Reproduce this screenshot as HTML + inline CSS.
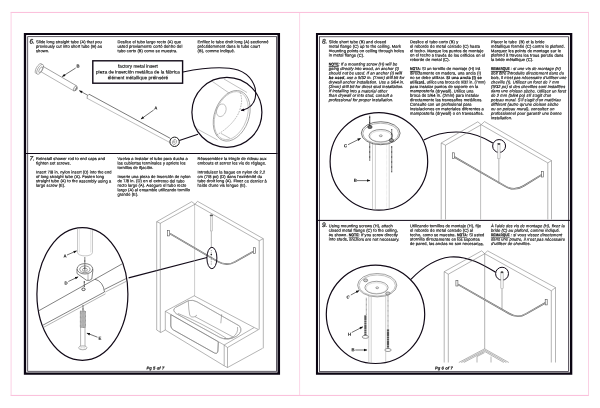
<!DOCTYPE html>
<html><head><meta charset="utf-8"><title>Pg 5-6</title>
<style>
html,body{margin:0;padding:0;background:#fff;}
body{width:600px;height:408px;overflow:hidden;}
svg{will-change:transform;display:block;position:absolute;left:0;top:0;}
text{filter:grayscale(1);text-rendering:geometricPrecision;font-family:"Liberation Sans",sans-serif;font-size:4.0px;letter-spacing:0.09px;fill:#111;stroke:#111;stroke-width:0.16px;}
.b{font-weight:bold;}
.i{font-style:italic;}
.u{text-decoration:underline;text-decoration-thickness:0.35px;text-underline-offset:0.1px;letter-spacing:0;stroke-width:0.18px;}
.num{font-size:6.5px;font-weight:normal;font-style:italic;letter-spacing:0;stroke:#222;stroke-width:0.22px;fill:#222;}
.lbl{font-size:4.3px;font-weight:bold;letter-spacing:0;stroke:#111;stroke-width:0.08px;}
.co{font-size:4.6px;letter-spacing:0.05px;text-anchor:middle;}
.pg{font-size:4.1px;font-weight:bold;font-style:italic;letter-spacing:0.08px;}
.g{fill:none;stroke:#787878;stroke-width:0.55;}
.gt{fill:none;stroke:#a2a2a2;stroke-width:0.5;}
.g2{fill:none;stroke:#b0b0b0;stroke-width:0.4;}
.d{fill:none;stroke:#444;stroke-width:0.5;}
.k{fill:none;stroke:#120a18;stroke-width:0.9;}
.k2{fill:none;stroke:#1a1a1a;stroke-width:0.55;}
.dot{fill:none;stroke:#222;stroke-width:1.15;stroke-dasharray:0.85 0.4;}
.rod{fill:none;stroke:#5c5c5c;stroke-width:1.55;}
.rodc{fill:none;stroke:#fff;stroke-width:0.5;}
.fl{fill:#fff;stroke:#555;stroke-width:0.6;}
.ar{fill:none;stroke:#111;stroke-width:0.6;}
.ah{fill:#111;stroke:none;}
</style></head><body>
<svg width="600" height="408" viewBox="0 0 600 408">
<rect x="0" y="0" width="600" height="408" fill="#fff"/>

<g fill="none" stroke="#fab9d8" stroke-width="0.95"><path d="M10.6,12.45H589 M10.6,395.45H589"/><path stroke="#fbcde3" d="M11.1,12.45V395.45 M588.5,12.45V395.45"/><path stroke="#fbc4de" stroke-width="0.7" d="M299.6,12.45V395.45"/></g>
<path fill="#0b0512" fill-rule="evenodd" d="M23.85,33H280.05V374.8H23.85Z M26.150000000000002,35.05V372.40000000000003H277.5V35.05Z"/>
<rect x="27.7" y="36.65" width="248.90" height="334.65" fill="none" stroke="#3a3440" stroke-width="0.8"/>
<path fill="#0b0512" fill-rule="evenodd" d="M315.95,33H572.3V374.8H315.95Z M318.05,35.05V372.5H569.9V35.05Z"/>
<rect x="319.55" y="36.75" width="249.00" height="334.65" fill="none" stroke="#3a3440" stroke-width="0.8"/>
<path fill="none" stroke="#100818" stroke-width="1" d="M26,153.5H277.5 M318,220.4H570"/>
<text class="num" x="29.5" y="43.5" transform="rotate(0.04 29.5 43.5)">6.</text>
<text x="36" y="43.20" transform="rotate(0.04 36 43.20)" xml:space="preserve">Slide long straight tube (A) that you</text>
<text x="36" y="47.67" transform="rotate(0.04 36 47.67)" xml:space="preserve">previously cut into short tube (B) as</text>
<text x="36" y="52.14" transform="rotate(0.04 36 52.14)" xml:space="preserve">shown.</text>
<text x="117.5" y="43.20" transform="rotate(0.04 117.5 43.20)" xml:space="preserve">Deslice el tubo largo recto (A) que</text>
<text x="117.5" y="47.67" transform="rotate(0.04 117.5 47.67)" xml:space="preserve">usted previamente cortó dentro del</text>
<text x="117.5" y="52.14" transform="rotate(0.04 117.5 52.14)" xml:space="preserve">tubo corto (B) como se muestra.</text>
<text x="197.5" y="43.20" transform="rotate(0.04 197.5 43.20)" xml:space="preserve">Enfilez le tube droit long (A) sectionné</text>
<text x="197.5" y="47.67" transform="rotate(0.04 197.5 47.67)" xml:space="preserve">précédemment dans le tube court</text>
<text x="197.5" y="52.14" transform="rotate(0.04 197.5 52.14)" xml:space="preserve">(B), comme indiqué.</text>
<text class="num" x="29.5" y="160.5" transform="rotate(0.04 29.5 160.5)">7.</text>
<text x="36" y="160.00" transform="rotate(0.04 36 160.00)" xml:space="preserve">Reinstall shower rod to end caps and</text>
<text x="36" y="164.47" transform="rotate(0.04 36 164.47)" xml:space="preserve">tighten set screws.</text>
<text x="36" y="173.41" textLength="75.5" lengthAdjust="spacingAndGlyphs" transform="rotate(0.04 36 173.41)" xml:space="preserve">Insert 7/8 in. nylon insert (D) into the end</text>
<text x="36" y="177.88" transform="rotate(0.04 36 177.88)" xml:space="preserve">of long straight tube (A). Fasten long</text>
<text x="36" y="182.35" transform="rotate(0.04 36 182.35)" xml:space="preserve">straight tube (A) to the assembly using a</text>
<text x="36" y="186.82" transform="rotate(0.04 36 186.82)" xml:space="preserve">large screw (E).</text>
<text x="117.5" y="160.00" transform="rotate(0.04 117.5 160.00)" xml:space="preserve">Vuelva a instalar el tubo para ducha a</text>
<text x="117.5" y="164.47" transform="rotate(0.04 117.5 164.47)" xml:space="preserve">las cubiertas terminales y apriete los</text>
<text x="117.5" y="168.94" transform="rotate(0.04 117.5 168.94)" xml:space="preserve">tornillos de fijación.</text>
<text x="117.5" y="177.88" transform="rotate(0.04 117.5 177.88)" xml:space="preserve">Inserte una pieza de inserción de nylon</text>
<text x="117.5" y="182.35" transform="rotate(0.04 117.5 182.35)" xml:space="preserve">de 7/8 in. (D) en el extremo del tubo</text>
<text x="117.5" y="186.82" transform="rotate(0.04 117.5 186.82)" xml:space="preserve">recto largo (A). Asegure el tubo recto</text>
<text x="117.5" y="191.29" transform="rotate(0.04 117.5 191.29)" xml:space="preserve">largo (A) al ensamble utilizando tornillo</text>
<text x="117.5" y="195.76" transform="rotate(0.04 117.5 195.76)" xml:space="preserve">grande (E).</text>
<text x="197.5" y="160.00" transform="rotate(0.04 197.5 160.00)" xml:space="preserve">Réassemblez la tringle de rideau aux</text>
<text x="197.5" y="164.47" transform="rotate(0.04 197.5 164.47)" xml:space="preserve">embouts et serrez les vis de réglage.</text>
<text x="197.5" y="173.41" transform="rotate(0.04 197.5 173.41)" xml:space="preserve">Introduisez la bague en nylon de 2,2</text>
<text x="197.5" y="177.88" transform="rotate(0.04 197.5 177.88)" xml:space="preserve">cm (7/8 po) (D) dans l'extrémité du</text>
<text x="197.5" y="182.35" transform="rotate(0.04 197.5 182.35)" xml:space="preserve">tube droit long (A). Fixez ce dernier à</text>
<text x="197.5" y="186.82" transform="rotate(0.04 197.5 186.82)" xml:space="preserve">l'aide d'une vis longue (E).</text>
<text class="num" x="322" y="43.5" transform="rotate(0.04 322 43.5)">8.</text>
<text x="328.8" y="43.20" transform="rotate(0.04 328.8 43.20)" xml:space="preserve">Slide short tube (B) and closed</text>
<text x="328.8" y="47.67" transform="rotate(0.04 328.8 47.67)" xml:space="preserve">metal flange (C) up to the ceiling. Mark</text>
<text x="328.8" y="52.14" transform="rotate(0.04 328.8 52.14)" xml:space="preserve">mounting points on ceiling through holes</text>
<text x="328.8" y="56.61" transform="rotate(0.04 328.8 56.61)" xml:space="preserve">in metal flange (C).</text>
<text x="328.8" y="65.55" transform="rotate(0.04 328.8 65.55)" xml:space="preserve"><tspan class="b u" textLength="9.7" lengthAdjust="spacingAndGlyphs">NOTE</tspan><tspan class="i">: If a mounting screw (H) will be</tspan></text>
<text x="328.8" y="70.02" transform="rotate(0.04 328.8 70.02)" xml:space="preserve"><tspan class="i">going directly into wood, an anchor (I)</tspan></text>
<text x="328.8" y="74.49" transform="rotate(0.04 328.8 74.49)" xml:space="preserve"><tspan class="i">should not be used. If an anchor (I) </tspan><tspan class="b i">will</tspan></text>
<text x="328.8" y="78.96" textLength="75.5" lengthAdjust="spacingAndGlyphs" transform="rotate(0.04 328.8 78.96)" xml:space="preserve"><tspan class="b i">be used</tspan><tspan class="i">, use a 9/32 in. (7mm) drill bit for</tspan></text>
<text x="328.8" y="83.43" textLength="75.5" lengthAdjust="spacingAndGlyphs" transform="rotate(0.04 328.8 83.43)" xml:space="preserve"><tspan class="i">drywall anchor installation. Use a 5/64 in.</tspan></text>
<text x="328.8" y="87.90" transform="rotate(0.04 328.8 87.90)" xml:space="preserve"><tspan class="i">(2mm) drill bit for direct stud installation.</tspan></text>
<text x="328.8" y="92.37" transform="rotate(0.04 328.8 92.37)" xml:space="preserve"><tspan class="i">If installing into a material other</tspan></text>
<text x="328.8" y="96.84" transform="rotate(0.04 328.8 96.84)" xml:space="preserve"><tspan class="i">than drywall or into stud, consult a</tspan></text>
<text x="328.8" y="101.31" transform="rotate(0.04 328.8 101.31)" xml:space="preserve"><tspan class="i">professional for proper installation.</tspan></text>
<text x="410" y="43.20" transform="rotate(0.04 410 43.20)" xml:space="preserve">Deslice el tubo corto (B) y</text>
<text x="410" y="47.67" transform="rotate(0.04 410 47.67)" xml:space="preserve">el reborde de metal cerrado (C) hasta</text>
<text x="410" y="52.14" transform="rotate(0.04 410 52.14)" xml:space="preserve">el techo. Marque los puntos de montaje</text>
<text x="410" y="56.61" transform="rotate(0.04 410 56.61)" xml:space="preserve">en el techo a través de los orificios en el</text>
<text x="410" y="61.08" transform="rotate(0.04 410 61.08)" xml:space="preserve">reborde de metal (C).</text>
<text x="410" y="70.02" transform="rotate(0.04 410 70.02)" xml:space="preserve"><tspan class="b u" textLength="9.7" lengthAdjust="spacingAndGlyphs">NOTA</tspan>: Si un tornillo de montaje (H) irá</text>
<text x="410" y="74.49" transform="rotate(0.04 410 74.49)" xml:space="preserve">directamente en madera, una ancla (I)</text>
<text x="410" y="78.96" transform="rotate(0.04 410 78.96)" xml:space="preserve">no se debe utilizar. <tspan class="b">Si una ancla (I) se</tspan></text>
<text x="410" y="83.43" textLength="75.5" lengthAdjust="spacingAndGlyphs" transform="rotate(0.04 410 83.43)" xml:space="preserve"><tspan class="b">utilizará</tspan>, utilice una broca de 9/32 in. (7mm)</text>
<text x="410" y="87.90" transform="rotate(0.04 410 87.90)" xml:space="preserve">para instalar puntos de soporte en la</text>
<text x="410" y="92.37" transform="rotate(0.04 410 92.37)" xml:space="preserve">mampostería (drywall). Utilice una</text>
<text x="410" y="96.84" transform="rotate(0.04 410 96.84)" xml:space="preserve">broca de 5/64 in. (2mm) para instalar</text>
<text x="410" y="101.31" transform="rotate(0.04 410 101.31)" xml:space="preserve">directamente las travesaños metálicos.</text>
<text x="410" y="105.78" transform="rotate(0.04 410 105.78)" xml:space="preserve">Consulte con un profesional para</text>
<text x="410" y="110.25" transform="rotate(0.04 410 110.25)" xml:space="preserve">instalaciones en materiales diferentes a</text>
<text x="410" y="114.72" transform="rotate(0.04 410 114.72)" xml:space="preserve">mampostería (drywall) o en travesaños.</text>
<text x="491" y="43.20" transform="rotate(0.04 491 43.20)" xml:space="preserve">Placer le tube  (B) et la bride</text>
<text x="491" y="47.67" transform="rotate(0.04 491 47.67)" xml:space="preserve">métallique fermée (C) contre le plafond.</text>
<text x="491" y="52.14" transform="rotate(0.04 491 52.14)" xml:space="preserve">Marquez les points de montage sur le</text>
<text x="491" y="56.61" transform="rotate(0.04 491 56.61)" xml:space="preserve">plafond à travers les trous percés dans</text>
<text x="491" y="61.08" transform="rotate(0.04 491 61.08)" xml:space="preserve">la bride métallique (C).</text>
<text x="491" y="70.02" transform="rotate(0.04 491 70.02)" xml:space="preserve"><tspan class="b u" textLength="18.6" lengthAdjust="spacingAndGlyphs">REMARQUE</tspan><tspan class="i"> : si une vis de montage (H)</tspan></text>
<text x="491" y="74.49" transform="rotate(0.04 491 74.49)" xml:space="preserve"><tspan class="i">doit être introduite directement dans du</tspan></text>
<text x="491" y="78.96" textLength="75.5" lengthAdjust="spacingAndGlyphs" transform="rotate(0.04 491 78.96)" xml:space="preserve"><tspan class="i">bois, il n'est pas nécessaire d'utiliser une</tspan></text>
<text x="491" y="83.43" transform="rotate(0.04 491 83.43)" xml:space="preserve"><tspan class="i">cheville (I). Utilisez un foret de 7 mm</tspan></text>
<text x="491" y="87.90" transform="rotate(0.04 491 87.90)" xml:space="preserve"><tspan class="i">(9/32 po) si des chevilles sont installées</tspan></text>
<text x="491" y="92.37" transform="rotate(0.04 491 92.37)" xml:space="preserve"><tspan class="i">dans une cloison sèche. Utilisez un foret</tspan></text>
<text x="491" y="96.84" transform="rotate(0.04 491 96.84)" xml:space="preserve"><tspan class="i">de 2 mm (5/64 po) s'il s'agit d'un</tspan></text>
<text x="491" y="101.31" transform="rotate(0.04 491 101.31)" xml:space="preserve"><tspan class="i">poteau mural. S'il s'agit d'un matériau</tspan></text>
<text x="491" y="105.78" transform="rotate(0.04 491 105.78)" xml:space="preserve"><tspan class="i">différent (autre qu'une cloison sèche</tspan></text>
<text x="491" y="110.25" transform="rotate(0.04 491 110.25)" xml:space="preserve"><tspan class="i">ou un poteau mural), consultez un</tspan></text>
<text x="491" y="114.72" transform="rotate(0.04 491 114.72)" xml:space="preserve"><tspan class="i">professionnel pour garantir une bonne</tspan></text>
<text x="491" y="119.19" transform="rotate(0.04 491 119.19)" xml:space="preserve"><tspan class="i">installation.</tspan></text>
<text class="num" x="322" y="227" transform="rotate(0.04 322 227)">9.</text>
<text x="328.8" y="227.20" transform="rotate(0.04 328.8 227.20)" xml:space="preserve">Using mounting screws (H), attach</text>
<text x="328.8" y="231.67" transform="rotate(0.04 328.8 231.67)" xml:space="preserve">closed metal flange (C) to the ceiling,</text>
<text x="328.8" y="236.14" transform="rotate(0.04 328.8 236.14)" xml:space="preserve">as shown. <tspan class="b u" textLength="9.7" lengthAdjust="spacingAndGlyphs">NOTE</tspan>: If you screw directly</text>
<text x="328.8" y="240.61" transform="rotate(0.04 328.8 240.61)" xml:space="preserve">into studs, anchors are not necessary.</text>
<text x="410" y="227.20" transform="rotate(0.04 410 227.20)" xml:space="preserve">Utilizando tornillos de montaje (H), fije</text>
<text x="410" y="231.67" transform="rotate(0.04 410 231.67)" xml:space="preserve">el reborde de metal cerrado (C) al</text>
<text x="410" y="236.14" transform="rotate(0.04 410 236.14)" xml:space="preserve">techo, como se muestra. <tspan class="b u" textLength="9.7" lengthAdjust="spacingAndGlyphs">NOTA</tspan>: Si usted</text>
<text x="410" y="240.61" transform="rotate(0.04 410 240.61)" xml:space="preserve">atornilla directamente en los soportes</text>
<text x="410" y="245.08" transform="rotate(0.04 410 245.08)" xml:space="preserve">de pared, las anclas no son necesarias.</text>
<text x="491" y="227.20" transform="rotate(0.04 491 227.20)" xml:space="preserve"><tspan class="i">À l'aide des vis de montage (H), fixez la</tspan></text>
<text x="491" y="231.67" transform="rotate(0.04 491 231.67)" xml:space="preserve"><tspan class="i">bride (C) au plafond, comme indiqué.</tspan></text>
<text x="491" y="236.14" transform="rotate(0.04 491 236.14)" xml:space="preserve"><tspan class="b u" textLength="18.6" lengthAdjust="spacingAndGlyphs">REMARQUE</tspan><tspan class="i"> : si vous vissez directement</tspan></text>
<text x="491" y="240.61" transform="rotate(0.04 491 240.61)" xml:space="preserve"><tspan class="i">dans une poutre, il n'est pas nécessaire</tspan></text>
<text x="491" y="245.08" transform="rotate(0.04 491 245.08)" xml:space="preserve"><tspan class="i">d'utiliser de chevilles.</tspan></text>
<text class="pg" x="146.5" y="369.5" transform="rotate(0.04 146.5 369.5)">Pg 5 of 7</text>
<text class="pg" x="435" y="369.5" transform="rotate(0.04 435 369.5)">Pg 6 of 7</text>
<defs>
<marker id="ah" viewBox="0 0 10 10" refX="9" refY="5" markerWidth="4.2" markerHeight="3.4" orient="auto-start-reverse" markerUnits="userSpaceOnUse"><path d="M0,1.2 L10,5 L0,8.8 Z" fill="#111"/></marker>
<marker id="ah2" viewBox="0 0 10 10" refX="8" refY="5" markerWidth="4.6" markerHeight="3.6" orient="auto-start-reverse" markerUnits="userSpaceOnUse"><path d="M0,1 L10,5 L0,9 Z" fill="#120a18"/></marker>
<clipPath id="c7"><ellipse cx="82.4" cy="294" rx="45" ry="65.8"/></clipPath>
<clipPath id="c8"><circle cx="378.9" cy="161.4" r="48.4"/></clipPath>
<clipPath id="c9"><circle cx="375.5" cy="314.3" r="48.8"/></clipPath>
<clipPath id="c6"><circle cx="226.9" cy="112.3" r="34.5"/></clipPath>
</defs>

<!-- ================= STEP 6 ================= -->
<g id="s6">
<!-- flange -->
<g transform="translate(1.3 0.4) rotate(30 38.2 68.6)">
<ellipse class="g" cx="37.2" cy="68.6" rx="2.3" ry="5.6"/>
<ellipse class="g" cx="38.9" cy="68.6" rx="2.3" ry="5.6" style="fill:#fff"/>
<ellipse class="g" cx="39.6" cy="68.6" rx="1.3" ry="3.2"/>
</g>
<!-- tube B -->
<path class="d" d="M42.9,66.3 L76.5,85.8"/>
<path class="g" d="M40.9,71.7 L73.7,90.8"/>
<ellipse class="d" cx="75.2" cy="88.4" rx="1.3" ry="2.9" transform="rotate(30 75.2 88.4)" style="fill:#fff"/>
<ellipse class="d" cx="76.3" cy="89" rx="0.7" ry="1.7" transform="rotate(30 76.3 89)"/>
<!-- small arrow -->
<path class="ar" d="M87.8,95.3 L79.3,90.6" marker-end="url(#ah)" style="stroke-width:0.55"/>
<!-- tube A -->
<path class="d" d="M89,94.2 L170.4,138.4" style="stroke:#222;stroke-width:0.6"/>
<path class="g" d="M87.1,98.3 L169.6,142.4" style="stroke:#8a8a8a"/>
<path class="d" d="M89,94.2 Q86.6,95.6 87.1,98.6"/>
<!-- small ring -->
<circle class="k2" cx="174.6" cy="141.8" r="4.7" style="fill:#fff;stroke-width:1.0"/>
<ellipse class="g" cx="174.5" cy="142" rx="2" ry="2.6" transform="rotate(25 174.5 142)"/>
<ellipse class="g" cx="174.2" cy="141.8" rx="0.7" ry="1" />
<path class="k" d="M179.3,140.4 L198,134.2" style="stroke-width:1.1"/>
<!-- labels -->
<text class="lbl" x="76.6" y="67.4" transform="rotate(0.04 76.6 67.4)">B</text>
<path class="ar" d="M75.7,68 L62.3,76.5" marker-end="url(#ah)"/>
<text class="lbl" x="154.3" y="109.5" transform="rotate(0.04 154.3 109.5)">A</text>
<path class="ar" d="M153.7,110 L141,119" marker-end="url(#ah)"/>
<!-- callout box -->
<rect x="92.8" y="60.8" width="89.8" height="22.4" fill="#fff" stroke="#120a18" stroke-width="1.4"/>
<text class="co" x="137.9" y="67.8" transform="rotate(0.04 137.9 67.8)">factory metal insert</text>
<text class="co" x="137.9" y="73.6" transform="rotate(0.04 137.9 73.6)">pieza de inserción metálica de la fábrica</text>
<text class="co" x="137.9" y="79.2" transform="rotate(0.04 137.9 79.2)">élément métallique préinséré</text>
<!-- big circle -->
<circle class="k" cx="226.9" cy="112.3" r="35" style="stroke-width:1.2"/>
<g clip-path="url(#c6)">
<path class="d" d="M211,80.5 L229,93 M224,79 L247,92.5 M196,128.3 L217.5,140 M220.8,133.3 L230,138.3" style="stroke:#666;stroke-width:0.4"/>
<g transform="rotate(20 231.7 115.8)">
<ellipse class="g2" cx="231.7" cy="115.8" rx="17.2" ry="26.2" style="stroke:#999;stroke-width:0.8"/>
<ellipse class="g2" cx="231.2" cy="115.8" rx="15.7" ry="24.9" style="stroke:#aaa;stroke-width:0.6"/>
</g>
<ellipse class="g" cx="221.3" cy="110.3" rx="4.6" ry="6.5" transform="rotate(20 221.3 110.3)" style="stroke:#999;stroke-width:0.55"/>
<path class="g" d="M240,92.5 Q243.5,100 239.2,111.7 Q233.5,125 216.5,135.2" style="stroke:#858585;stroke-width:0.6;stroke-dasharray:1.7 1"/>
</g>
<!-- leader -->
<path class="k" d="M183,72 C 198,69 222,65.5 238,70 C 251,74.5 256.2,86 255.7,94.5 C 255.2,103 250,108.6 241.3,110.4" marker-end="url(#ah2)" style="stroke-width:1.15"/>
</g>

<!-- ================= STEP 7 ================= -->
<g id="s7a">
<ellipse cx="82.4" cy="294" rx="45.5" ry="66.3" class="k" style="stroke-width:1.2;fill:#fff"/>
<g clip-path="url(#c7)">
<!-- vertical tube A -->
<path class="g" d="M77.5,225 V252.5 A7.5,3.4 0 0 0 92.5,252.5 V225" style="stroke:#9a9a9a"/>
<path class="g2" d="M79.3,225 V252.5 M90.8,225 V252.5"/>
<!-- big tube -->
<path class="k2" d="M36,312.3 L95,279.2 Q103.3,281.5 104.5,292"/>
<path class="k2" d="M38,327.8 L104.5,292"/>
<path class="g" d="M40,329.3 L105.5,293.8"/>
<!-- thin rod -->
<path class="k2" d="M95,279.2 L126,261.7"/>
<path class="k2" d="M104.5,289.4 L132,275.6"/>
<path class="g" d="M105.3,292 L132,278.4"/>
</g>
<!-- dotted -->
<path class="dot" d="M84.8,257.5 V268"/>
<!-- nut D -->
<path class="k2" d="M77,269 V273.5 L86.5,280.3 Q90,281 91.8,279 L92.8,271 V269" style="fill:#fff"/>
<ellipse class="k2" cx="84.9" cy="268.8" rx="7.8" ry="5.2" style="fill:#fff"/>
<ellipse class="k2" cx="84.9" cy="269.3" rx="5.2" ry="3.4" style="stroke:#444"/>
<ellipse class="d" cx="84.9" cy="269.8" rx="2.5" ry="1.6"/>
<path class="g" d="M88,280.3 V274"/>
<path class="dot" d="M84.8,264.5 V271 M84.3,281 V287.3"/>
<ellipse class="k2" cx="83.5" cy="289.3" rx="1.7" ry="1.3" style="stroke-width:0.7"/>
<!-- labels -->
<text class="lbl" x="63.6" y="257.6" transform="rotate(0.04 63.6 257.6)">A</text>
<path class="ar" d="M67,255 L76.6,250.9" marker-end="url(#ah)"/>
<text class="lbl" x="64.6" y="284.4" transform="rotate(0.04 64.6 284.4)">D</text>
<path class="ar" d="M68.3,281.5 L78.1,276.9" marker-end="url(#ah)"/>
<!-- screw E -->
<path class="dot" d="M83,305.5 V311"/>
<rect x="80.3" y="311" width="5.2" height="16.5" fill="#aaa" stroke="#444" stroke-width="0.5" stroke-dasharray="0.8 0.5"/>
<path stroke="#fff" stroke-width="0.35" stroke-dasharray="0.5 0.8" d="M81.5,311.3 V327.3 M82.9,311.7 V327.3 M84.3,311.3 V327.3"/>
<path class="g" d="M80.6,327.5 V346 M85,327.5 V346" style="stroke:#777"/>
<ellipse class="g" cx="82.8" cy="347.8" rx="4.2" ry="2" style="stroke:#777;fill:#fff"/>
<ellipse class="g2" cx="82.8" cy="348.2" rx="2.5" ry="1.1"/>
<text class="lbl" x="98.6" y="339.8" transform="rotate(0.04 98.6 339.8)">E</text>
<path class="ar" d="M97.5,337.2 L86.9,333.1" marker-end="url(#ah)"/>
<!-- leader to right -->
<path class="k" d="M128.6,277.8 L207,257.5" style="stroke-width:1.2"/>
</g>

<g id="s7b">
<!-- walls -->
<path class="g" d="M156.7,221.7 L191.7,201.7 L195,204.2 L160.3,223.3 Z"/>
<path class="g" d="M156.7,221.7 V330 L160.8,332.5 L165.3,330 M160.3,223.3 V332.5"/>
<path class="g" d="M195,204.2 L197.5,201.3 L263.3,238.7 L259.2,240.8 Z"/>
<path class="g" d="M259.2,240.8 V329.5 M263.3,238.7 V348.3"/>
<path class="g" d="M194.6,204.2 V296" style="stroke:#9a9a9a;stroke-width:0.5"/>
<!-- vertical support -->
<rect x="210.3" y="215.4" width="2.2" height="15.6" fill="#efefef" stroke="#999" stroke-width="0.45"/>
<ellipse cx="211.4" cy="215.3" rx="1.7" ry="0.9" fill="#555"/>
<path class="g" d="M211.4,231 V248" style="stroke-width:1.1;stroke:#aaa"/>
<path fill="none" stroke="#fff" stroke-width="0.3" d="M211.4,231 V248"/>
<!-- rod -->
<path class="rod" d="M170,233.7 L217.5,261.4 Q226.5,266.6 235,261.8 L253.6,251.4"/>
<path class="rodc" d="M170,233.7 L217.5,261.4 Q226.5,266.6 235,261.8 L253.6,251.4"/>
<rect class="fl" x="167.6" y="230.3" width="2" height="5.6"/>
<rect class="fl" x="253.5" y="247.7" width="2" height="5.6"/>
<!-- small ellipse -->
<ellipse class="k" cx="211.9" cy="258" rx="5" ry="10.7" style="stroke-width:1.0"/>
<path class="d" d="M211.3,250 V265" style="stroke-dasharray:1 0.8"/>
<circle cx="211.3" cy="254.5" r="0.8" fill="#222"/>
<!-- tub -->
<path class="g" d="M165.3,311.3 L194.2,295.8 L254.2,327.5 L224.2,345 Z"/>
<path class="g" d="M254.2,327.5 L258.5,329.6 L227.5,347.5 L224.2,345"/>
<path class="g" d="M165.3,311.3 V330 L224.2,365.8 L227.5,367.5 L262.6,348.3 M224.2,345 V365.8 M227.5,347.5 V367.5"/>
<path class="d" d="M170.8,314.8 V326 Q171,328.6 173.5,330 L214.5,353 Q217.6,354.3 217.9,351 L218.3,342" style="stroke:#555;stroke-width:0.9"/>
<path fill="none" stroke="#fff" stroke-width="0.3" d="M170.8,314.8 V326 Q171,328.6 173.5,330 L214.5,353 Q217.6,354.3 217.9,351 L218.3,342"/>
<path class="d" d="M170.8,314.6 L218.3,341.8" style="stroke:#666"/>
<path class="d" d="M176.5,313.8 L220,337.5 Q228,341.2 236.5,336.2 Q243.5,331.5 239.5,326 L197,301.8 Q193,299.6 188.5,300.6 L175.2,307.6 Q171.8,310.4 176.5,313.8 Z" style="stroke:#666;stroke-width:0.8"/>
<path fill="none" stroke="#fff" stroke-width="0.3" d="M176.5,313.8 L220,337.5 Q228,341.2 236.5,336.2 Q243.5,331.5 239.5,326 L197,301.8 Q193,299.6 188.5,300.6 L175.2,307.6 Q171.8,310.4 176.5,313.8 Z"/>
<path class="g" d="M188.3,300.8 Q188.6,310 189.7,315 Q191,318 195,316.6 L197,315 M195,316.6 L233,337 M221.7,314.2 L220.8,323.3 M237.5,327 Q238.5,333 233,337 Q229,339.5 224,338.5 M178,313.5 Q200,322 226,338"/>
</g>

<!-- ================= STEP 8 ================= -->
<g id="s8a">
<circle class="k" cx="378.9" cy="161.4" r="48.8" style="stroke-width:1.2;fill:#fff"/>
<g clip-path="url(#c8)">
<path class="gt" d="M372.5,143 V212 M375.4,144 V212 M389.2,143 V212"/>
<path class="g2" d="M386.6,143 V212" style="stroke-dasharray:0.5 0.7"/>
</g>
<ellipse class="k2" cx="380.7" cy="133.2" rx="19.4" ry="11.5" style="fill:#fff;stroke-width:0.6"/>
<ellipse class="g" cx="380.7" cy="133.5" rx="17.9" ry="10.3"/>
<ellipse class="k2" cx="380.8" cy="135.8" rx="11.8" ry="6.3" style="stroke:#333"/>
<ellipse class="g2" cx="380.8" cy="136.3" rx="10.6" ry="5.4"/>
<ellipse class="d" cx="380.8" cy="135.8" rx="1.5" ry="0.9"/>
<ellipse class="k2" cx="369.9" cy="127" rx="2.2" ry="1.6" style="fill:#666"/>
<ellipse class="k2" cx="391.4" cy="140.3" rx="2.2" ry="1.6" style="fill:#999"/>
<path class="dot" d="M369.7,115.8 V126 M369.7,143.5 V160.8 M391.7,129.2 V139.3 M391.7,146 V172.5"/>
<text class="lbl" x="344" y="147.2" transform="rotate(0.04 344 147.2)">C</text>
<path class="ar" d="M348,144.7 L360.6,138.4" marker-end="url(#ah)"/>
<text class="lbl" x="353.8" y="181.8" transform="rotate(0.04 353.8 181.8)">B</text>
<path class="ar" d="M357,180.6 L370,180.6" marker-end="url(#ah)"/>
<path class="k" d="M423.7,140 C 435,134 449,131.2 462,132.2 C 476,133.5 486,138.6 492.8,143" style="stroke-width:1.15"/>
</g>
<g id="s8b">
<path class="g" d="M441.2,143 L477.8,121.8 L481.2,124.7 L445.5,145.2 Z"/>
<path class="g" d="M441.2,143 V219.5 M445.5,145.2 V219.5"/>
<path class="g" d="M481.2,124.7 L484.5,121.6 L551.5,160.6 L547.8,162.9 Z"/>
<path class="g" d="M547.8,162.9 V219.5 M551.5,160.6 V219.5"/>
<path class="g" d="M480.6,124.7 V219.5" style="stroke:#8a8a8a"/>
<circle class="k" cx="499.1" cy="146" r="6.45" style="stroke-width:1.0"/>
<rect x="497.7" y="143.6" width="2.4" height="15" fill="#efefef" stroke="#999" stroke-width="0.45"/>
<ellipse cx="498.9" cy="144" rx="1.3" ry="1" fill="#444"/>
<path class="g" d="M498.8,158.6 V183.5" style="stroke-width:1.1;stroke:#aaa"/>
<path fill="none" stroke="#fff" stroke-width="0.3" d="M498.8,158.6 V183.5"/>
<path class="rod" d="M454.4,157 L505.5,186.3 Q514.5,191.5 523.5,186 L542,174.6"/>
<path class="rodc" d="M454.4,157 L505.5,186.3 Q514.5,191.5 523.5,186 L542,174.6"/>
<rect class="fl" x="452.3" y="152.8" width="2" height="5.6"/>
<rect class="fl" x="541.6" y="171.4" width="2" height="5.6"/>
</g>

<!-- ================= STEP 9 ================= -->
<g id="s9a">
<circle class="k" cx="375.5" cy="314.3" r="49.2" style="stroke-width:1.2;fill:#fff"/>
<g clip-path="url(#c9)">
<path class="gt" d="M368.8,296 V365 M371.2,297 V365 M385.7,296 V365"/>
</g>
<ellipse class="k2" cx="377.2" cy="285.2" rx="19.6" ry="11.7" style="fill:#fff;stroke-width:0.55;stroke:#555"/>
<ellipse class="g" cx="377.2" cy="285.5" rx="18.2" ry="10.5" style="stroke:#888;stroke-width:0.5"/>
<ellipse class="k2" cx="376.5" cy="287.6" rx="11.6" ry="6.3" style="stroke:#555"/>
<ellipse class="g2" cx="376.5" cy="288.1" rx="10.4" ry="5.4"/>
<ellipse class="d" cx="377.2" cy="287.8" rx="1.4" ry="0.9"/>
<ellipse class="k2" cx="365.6" cy="280.3" rx="2.1" ry="1.5" style="fill:#ccc;stroke:#555"/>
<ellipse class="k2" cx="387.8" cy="293.4" rx="2.1" ry="1.5" style="fill:#ccc;stroke:#555"/>
<path class="dot" d="M366.3,297.8 V315 M388,295 V329.2" style="stroke:#555;stroke-width:0.7"/>
<path stroke="#222" stroke-width="2.2" stroke-dasharray="0.6 0.3" d="M365.4,315 V335.4 M388,329.2 V348.6"/>
<ellipse class="k2" cx="365.4" cy="336.9" rx="3.2" ry="1.5" style="fill:#fff;stroke:#444"/>
<ellipse class="k2" cx="388" cy="350" rx="3.2" ry="1.5" style="fill:#fff;stroke:#444"/>
<text class="lbl" x="346.6" y="298.5" transform="rotate(0.04 346.6 298.5)" style="font-style:italic">C</text>
<path class="ar" d="M350.8,295 L359,290.6" marker-end="url(#ah)"/>
<text class="lbl" x="348" y="335.8" transform="rotate(0.04 348 335.8)">H</text>
<path class="ar" d="M351.7,332.5 L362.8,326.8" marker-end="url(#ah)"/>
<text class="lbl" x="351.5" y="351.3" transform="rotate(0.04 351.5 351.3)">B</text>
<path class="ar" d="M355.3,350 L367,350" marker-end="url(#ah)"/>
<path class="k" d="M410.9,279.3 C 420,270 433,259 450,257 C 468,255.4 485,266 495.6,272.3" style="stroke-width:1.15"/>
</g>
<g id="s9b">
<path class="g" d="M444.2,271.7 L481.7,250.8 L484.7,253.7 L448.3,274.2 Z"/>
<path class="g" d="M444.2,271.7 V362.5 M448.3,274.2 V362.5"/>
<path class="g" d="M484.7,253.7 L487.5,250.8 L555.5,287.6 L551.3,290.8 Z"/>
<path class="g" d="M551.3,290.8 V362.5 M555.5,287.6 V362.5"/>
<path class="d" d="M484.7,253.7 V348.8" style="stroke:#666"/>
<path class="g" d="M458.8,362.5 L484.6,348.8 L508.8,362.5 M461.3,362.5 L484.6,350.1 L506.3,362.5 M463.8,362.5 L484.6,351.4 L503.8,362.5 M477,362.5 L477,356.5 L484.6,352.6 M491,362.5 V356.5 "/>
<circle class="k" cx="502.05" cy="273.7" r="6.45" style="stroke-width:1.0"/>
<rect x="500.8" y="272" width="2.4" height="16.6" fill="#efefef" stroke="#999" stroke-width="0.45"/>
<ellipse cx="502" cy="272.3" rx="1.3" ry="1" fill="#444"/>
<path class="g" d="M502,288.6 V310" style="stroke-width:1.1;stroke:#aaa"/>
<path fill="none" stroke="#fff" stroke-width="0.3" d="M502,288.6 V310"/>
<path class="rod" d="M458,284.4 L509,313.5 Q517.5,318.8 526,313.8 L546,302.5"/>
<path class="rodc" d="M458,284.4 L509,313.5 Q517.5,318.8 526,313.8 L546,302.5"/>
<rect class="fl" x="455.9" y="280.4" width="2" height="5.6"/>
<rect class="fl" x="545.2" y="299.3" width="2" height="5.6"/>
</g>

</svg></body></html>
